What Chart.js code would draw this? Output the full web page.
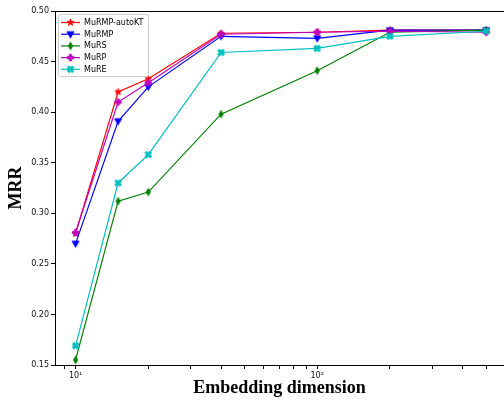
<!DOCTYPE html>
<html>
<head>
<meta charset="utf-8">
<script src="https://cdn.jsdelivr.net/npm/chart.js@4/dist/chart.umd.min.js"></script>
<style>
  html, body { margin: 0; padding: 0; background: #fff; overflow: hidden; }
</style>
</head>
<body>
<canvas id="mrr-chart" width="504" height="400"></canvas>
<script>
// embedding dimensions (x) and MRR per model
const dims = [10, 15, 20, 40, 100, 200, 500];
const mrr_autokt = [0.280, 0.420, 0.433, 0.478, 0.479, 0.481, 0.481];
const mrr_murmp = [0.270, 0.391, 0.425, 0.475, 0.473, 0.481, 0.481];
const mrr_murs = [0.155, 0.312, 0.321, 0.398, 0.441, 0.479, 0.481];
const mrr_murp = [0.281, 0.410, 0.429, 0.477, 0.479, 0.480, 0.479];
const mrr_mure = [0.169, 0.330, 0.358, 0.459, 0.463, 0.475, 0.480];

const model_names = ["MuRMP-autoKT", "MuRMP", "MuRS", "MuRP", "MuRE"];

// tick labels
const y_ticks = [0.15, 0.20, 0.25, 0.30, 0.35, 0.40, 0.45, 0.50];
const x_major = [10, 100];
const x_major_labels = ["10\u00b9", "10\u00b2"];
const x_minor = [9, 20, 30, 40, 50, 60, 70, 80, 90, 200, 300, 400, 500];

// small canvases used as point markers (matplotlib-ish shapes)
function makeMarker(color, shape) {
  const c = document.createElement('canvas');
  c.width = 11; c.height = 11;
  const g = c.getContext('2d');
  g.fillStyle = color;
  g.strokeStyle = color;
  g.lineWidth = 0.8;
  g.translate(5.5, 5.5);
  g.beginPath();
  if (shape === 'star') {
    for (let i = 0; i < 10; i++) {
      const r = i % 2 === 0 ? 3.6 : 1.5;
      const a = -Math.PI / 2 + i * Math.PI / 5;
      g.lineTo(r * Math.cos(a), r * Math.sin(a));
    }
  } else if (shape === 'tri_down') {
    g.moveTo(-3.6, -2.6);
    g.lineTo(3.6, -2.6);
    g.lineTo(0, 3.8);
  } else if (shape === 'thin_diamond') {
    g.moveTo(0, -3.8);
    g.lineTo(2.2, 0);
    g.lineTo(0, 3.8);
    g.lineTo(-2.2, 0);
  } else if (shape === 'plus') {
    const a = 3.3, b = 1.2;
    g.moveTo(-b, -a); g.lineTo(b, -a); g.lineTo(b, -b); g.lineTo(a, -b);
    g.lineTo(a, b); g.lineTo(b, b); g.lineTo(b, a); g.lineTo(-b, a);
    g.lineTo(-b, b); g.lineTo(-a, b); g.lineTo(-a, -b); g.lineTo(-b, -b);
  } else if (shape === 'x') {
    g.rotate(Math.PI / 4);
    const a = 3.6, b = 1.3;
    g.moveTo(-b, -a); g.lineTo(b, -a); g.lineTo(b, -b); g.lineTo(a, -b);
    g.lineTo(a, b); g.lineTo(b, b); g.lineTo(b, a); g.lineTo(-b, a);
    g.lineTo(-b, b); g.lineTo(-a, b); g.lineTo(-a, -b); g.lineTo(-b, -b);
  }
  g.closePath();
  g.fill();
  g.stroke();
  return c;
}

const colors = ['#ff0000', '#0000ff', '#008000', '#bf00bf', '#00bfbf'];
const shapes = ['star', 'tri_down', 'thin_diamond', 'plus', 'x'];
const series = [mrr_autokt, mrr_murmp, mrr_murs, mrr_murp, mrr_mure];
const markers = colors.map((c, i) => makeMarker(c, shapes[i]));

const datasets = series.map((vals, i) => ({
  label: model_names[i],
  data: dims.map((d, j) => ({ x: d, y: vals[j] })),
  borderColor: colors[i],
  backgroundColor: colors[i],
  borderWidth: 1.2,
  pointStyle: markers[i],
  pointRadius: 4,
  pointHoverRadius: 4,
  tension: 0,
  order: 5 - i   // later series on top, like matplotlib
}));

// top spine and the in-plot legend box
const framePlugin = {
  id: 'frame',
  afterDraw(chart) {
    const ctx = chart.ctx;
    const area = chart.chartArea;
    ctx.save();
    ctx.strokeStyle = '#000';
    ctx.lineWidth = 1;
    ctx.beginPath();
    ctx.moveTo(area.left, area.top + 0.5);
    ctx.lineTo(area.right, area.top + 0.5);
    ctx.stroke();

    // legend
    const bx = 58.5, by = 14.5, bw = 90, bh = 62;
    ctx.fillStyle = 'rgba(255,255,255,0.8)';
    ctx.strokeStyle = '#cccccc';
    ctx.beginPath();
    ctx.roundRect(bx, by, bw, bh, 2);
    ctx.fill();
    ctx.stroke();

    ctx.font = '8px "DejaVu Sans"';
    ctx.textBaseline = 'middle';
    chart.data.datasets.forEach((ds, i) => {
      const ry = 22.5 + i * 11.7;
      ctx.strokeStyle = ds.borderColor;
      ctx.lineWidth = 1.2;
      ctx.beginPath();
      ctx.moveTo(61, ry);
      ctx.lineTo(80, ry);
      ctx.stroke();
      const m = ds.pointStyle;
      ctx.drawImage(m, 70.5 - m.width / 2, ry - m.height / 2);
      ctx.fillStyle = '#000';
      ctx.fillText(ds.label, 84, ry + 0.5);
    });
    ctx.restore();
  }
};

const ctx = document.getElementById('mrr-chart').getContext('2d');
const chart = new Chart(ctx, {
  type: 'line',
  data: { datasets: datasets },
  options: {
    responsive: false,
    animation: false,
    layout: { autoPadding: false, padding: { top: 11, left: 0, right: 0, bottom: 0 } },
    plugins: {
      legend: { display: false },
      tooltip: { enabled: false }
    },
    scales: {
      x: {
        type: 'logarithmic',
        min: 8.22,
        max: 593,
        border: { display: true, color: '#000', width: 1 },
        grid: { drawOnChartArea: false, drawTicks: true, tickLength: 4, color: '#000' },
        afterBuildTicks(scale) {
          scale.ticks = x_minor.concat(x_major).sort((a, b) => a - b)
            .map(v => ({ value: v, major: x_major.includes(v) }));
        },
        afterFit(scale) {
          scale.height = 35;
          scale.paddingLeft = 0;
          scale.paddingRight = 0;
        },
        ticks: {
          autoSkip: false,
          maxRotation: 0,
          padding: 2,
          color: '#111',
          font: { family: 'DejaVu Sans', size: 8 },
          callback(v) {
            const k = x_major.indexOf(v);
            return k >= 0 ? x_major_labels[k] : '';
          }
        },
        title: {
          display: true,
          text: 'Embedding dimension',
          color: '#000',
          padding: { top: 0, bottom: 1 },
          font: { family: 'Liberation Serif', size: 18, weight: 'bold' }
        }
      },
      y: {
        min: 0.15,
        max: 0.50,
        border: { display: true, color: '#000', width: 1 },
        grid: { drawOnChartArea: false, drawTicks: true, tickLength: 4, color: '#000' },
        afterBuildTicks(scale) {
          scale.ticks = y_ticks.map(v => ({ value: v }));
        },
        afterFit(scale) { scale.width = 55; },
        ticks: {
          padding: 2,
          color: '#111',
          font: { family: 'DejaVu Sans', size: 8 },
          callback(v) { return v.toFixed(2); }
        },
        title: {
          display: true,
          text: 'MRR',
          color: '#000',
          padding: { top: 6, bottom: 0 },
          font: { family: 'Liberation Serif', size: 18, weight: 'bold' }
        }
      }
    }
  },
  plugins: [framePlugin]
});
</script>
</body>
</html>
